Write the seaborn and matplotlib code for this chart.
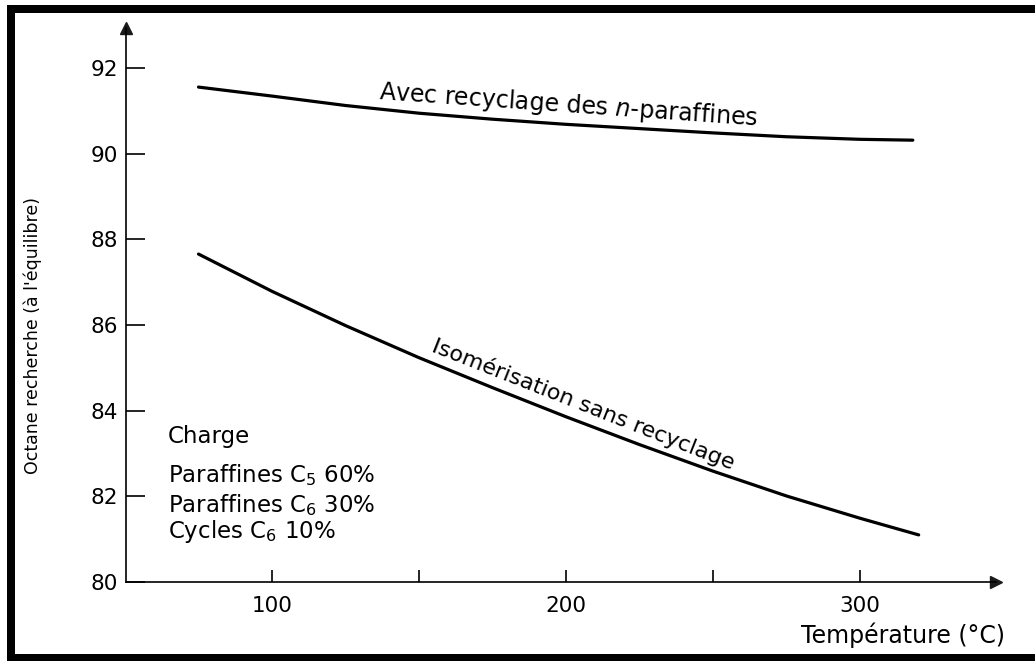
import matplotlib
matplotlib.use('Agg')
import pandas as pd
import seaborn as sns
import matplotlib.pyplot as plt
from matplotlib import font_manager
from matplotlib.patches import Rectangle

# Data
temp_recycle = [75, 100, 125, 150, 175, 200, 225, 250, 275, 300, 318]
octane_recycle = [91.56, 91.35, 91.13, 90.95, 90.81, 90.69, 90.59, 90.49, 90.40, 90.34, 90.32]

temp_no_recycle = [75, 100, 125, 150, 175, 200, 225, 250, 275, 300, 320]
octane_no_recycle = [87.66, 86.79, 85.99, 85.24, 84.54, 83.86, 83.21, 82.59, 82.01, 81.49, 81.10]

y_ticks = [80, 82, 84, 86, 88, 90, 92]
x_major = [100, 200, 300]
x_minor = [150, 250]

charge_lines = ['Charge', r'Paraffines C$_5$ 60%', r'Paraffines C$_6$ 30%', r'Cycles C$_6$ 10%']

sns.set_theme(style='white')
plt.rcParams['font.family'] = ['DejaVu Sans']
plt.rcParams['mathtext.fontset'] = 'dejavusans'
plt.rcParams['text.color'] = 'black'
plt.rcParams['axes.labelcolor'] = 'black'
plt.rcParams['xtick.color'] = 'black'
plt.rcParams['ytick.color'] = 'black'

W, H = 1035, 661
fig = plt.figure(figsize=(W / 100, H / 100), dpi=100)
# axes box in pixels: x 126..996, y 28..582 (from top)
ax = fig.add_axes([126 / W, 1 - 582 / H, 870 / W, 554 / H])

df_up = pd.DataFrame({'T': temp_recycle, 'RON': octane_recycle})
df_lo = pd.DataFrame({'T': temp_no_recycle, 'RON': octane_no_recycle})
sns.lineplot(data=df_up, x='T', y='RON', color='black', lw=2.3, ax=ax)
sns.lineplot(data=df_lo, x='T', y='RON', color='black', lw=2.3, ax=ax)

ax.set_xlim(50.34, 346.3)
ax.set_ylim(80, 92.94)

for s in ['top', 'right']:
    ax.spines[s].set_visible(False)
for s in ['left', 'bottom']:
    ax.spines[s].set_color('black')
    ax.spines[s].set_linewidth(1.2)

# arrow heads on the axes
ax.plot(1, 0, '>k', ms=9, transform=ax.transAxes, clip_on=False)
ax.plot(0, 1, '^k', ms=9, transform=ax.transAxes, clip_on=False)

ax.set_yticks(y_ticks)
ax.set_xticks(x_major)
ax.set_xticks(x_minor, minor=True)
ax.tick_params(axis='y', direction='in', length=13.5, width=1.2, color='black',
               labelsize=15.5, pad=6, left=True)
ax.tick_params(axis='x', which='both', direction='in', length=8.5, width=1.2,
               color='black', labelsize=15.5, pad=10, bottom=True)

# axis titles
ax.set_xlabel('Température (°C)', fontsize=17, loc='right')
ax.xaxis.set_label_coords((1005 - 126) / 870, (582 - 635) / 554)
ax.xaxis.label.set_va('center')
ax.xaxis.label.set_ha('right')

names = {f.name for f in font_manager.fontManager.ttflist}
if 'Liberation Sans Narrow' in names:
    ylab_font, ylab_size = 'Liberation Sans Narrow', 17
else:
    ylab_font, ylab_size = 'DejaVu Sans', 12.5
ax.set_ylabel("Octane recherche (à l'équilibre)", fontsize=ylab_size, family=ylab_font)
ax.yaxis.set_label_coords((33 - 126) / 870, (582 - 336) / 554)
ax.yaxis.label.set_va('center')

# curve labels
ax.text(201, 91.14, r'Avec recyclage des $\mathit{n}$-paraffines', fontsize=17,
        rotation=-4, rotation_mode='anchor', ha='center', va='center')
ax.text(206.1, 84.16, 'Isomérisation sans recyclage', fontsize=16,
        rotation=-21.5, rotation_mode='anchor', ha='center', va='center')

# feed composition
for label, yb in zip(charge_lines, [83.24, 82.33, 81.63, 81.03]):
    ax.text(64.6, yb, label, fontsize=16.5, ha='left', va='baseline')

# black scan frame (left, top, bottom)
frame = [(7, 5, 8, 656), (7, 5, 1028, 8), (7, 654, 1028, 7)]
for x0, y0, w, h in frame:
    fig.add_artist(Rectangle((x0 / W, 1 - (y0 + h) / H), w / W, h / H,
                             transform=fig.transFigure, color='black', lw=0))

fig.savefig('out.png', dpi=100)
